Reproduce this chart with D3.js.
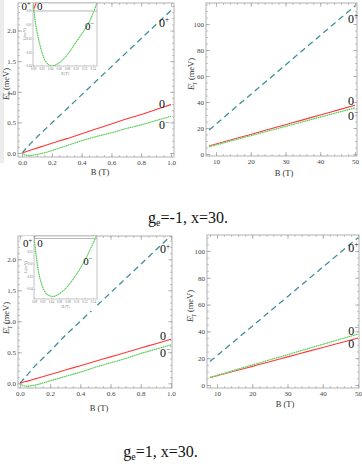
<!DOCTYPE html>
<html>
<head>
<meta charset="utf-8">
<script src="https://cdn.jsdelivr.net/npm/d3@7"></script>
<style>
  body { margin: 0; background: #fff; }
  text { font-family: "Liberation Serif", "Times New Roman", serif; }
</style>
</head>
<body>
<script>
// ---- data ----
const bLow = [0, 0.025, 0.05, 0.075, 0.1, 0.15, 0.2, 0.3, 0.4, 0.5, 0.6, 0.7, 0.8, 0.9, 1.0];
const bHigh = [8, 10, 15, 20, 25, 30, 35, 40, 45, 50];
const bInset = [0, 0.005, 0.01, 0.02, 0.03, 0.045, 0.06, 0.08, 0.1, 0.12, 0.135, 0.15];

// g_e = -1
const plusLowA = [0, 0.07, 0.135, 0.2, 0.26, 0.375, 0.49, 0.72, 0.95, 1.18, 1.41, 1.64, 1.87, 2.10, 2.33];
const zeroLowA = [0, 0.02, 0.04, 0.06, 0.08, 0.12, 0.16, 0.235, 0.315, 0.395, 0.475, 0.555, 0.63, 0.71, 0.79];
const minusLowA = [0, -0.036, -0.04, -0.034, -0.024, 0.003, 0.04, 0.12, 0.2, 0.27, 0.33, 0.4, 0.46, 0.53, 0.6];
const plusHighA = [18.5, 23, 34.5, 45.8, 57.2, 68.5, 79.9, 91.2, 102.6, 114];
const zeroHighA = [6.2, 7.7, 11.4, 15.1, 18.9, 22.6, 26.3, 30.1, 33.8, 37.5];
const minusHighA = [5.6, 7.0, 10.6, 14.1, 17.7, 21.3, 24.8, 28.4, 32.0, 35.5];
const minusInsetA = [0.006, -0.007, -0.016, -0.029, -0.037, -0.04, -0.038, -0.032, -0.023, -0.014, -0.006, 0.006];

// g_e = +1
const plusLowB = [0, 0.07, 0.14, 0.21, 0.28, 0.4, 0.52, 0.77, 1.0, 1.23, 1.46, 1.69, 1.92, 2.15, 2.38];
const zeroLowB = [0, 0.02, 0.035, 0.053, 0.071, 0.107, 0.142, 0.213, 0.284, 0.355, 0.426, 0.497, 0.568, 0.639, 0.71];
const minusLowB = [0, -0.041, -0.046, -0.04, -0.03, 0.003, 0.04, 0.11, 0.18, 0.26, 0.33, 0.4, 0.48, 0.55, 0.62];
const plusHighB = [17.5, 21.9, 32.9, 43.9, 54.9, 65.9, 76.9, 87.9, 98.9, 109.9];
const zeroHighB = [5.5, 6.9, 10.4, 13.9, 17.4, 21.0, 24.5, 28.0, 31.5, 35.0];
const minusHighB = [5.7, 7.2, 11.1, 14.9, 18.8, 22.6, 26.5, 30.3, 34.2, 38.0];
const minusInsetB = [0.001, -0.013, -0.025, -0.038, -0.044, -0.046, -0.044, -0.038, -0.029, -0.018, -0.008, 0.003];

// ticks
const xTicksLow = [0, 0.2, 0.4, 0.6, 0.8, 1.0];
const yTicksLow = [0, 0.5, 1.0, 1.5, 2.0];
const xTicksHigh = [10, 20, 30, 40, 50];
const yTicksHigh = [0, 20, 40, 60, 80, 100];
const xTicksInset = [0, 0.02, 0.04, 0.06, 0.08, 0.1, 0.12, 0.14];
const yTicksInsetA = [0, -0.01, -0.02, -0.03, -0.04];
const yTicksInsetB = [-0.01, -0.02, -0.03, -0.04];

const captions = ["=-1, x=30.", "=1, x=30."];

// ---- styles ----  (each kind may have an under-stroke and an over-stroke)
const styles = {
  plus: [{ stroke: "#3f8f98", dash: "6,4", width: 1.3 }],
  zero: [{ stroke: "#ff3838", dash: null, width: 1.1 }],
  minus: [
    { stroke: "#a4eaa4", dash: null, width: 1.1 },
    { stroke: "#3dbf3d", dash: "1,1.3", width: 1.0 }
  ]
};

const svg = d3.select("body").append("svg").attr("width", 362).attr("height", 467);

// faint strip on the left edge of the top figure
svg.append("rect").attr("x", 0).attr("y", 0).attr("width", 4).attr("height", 163).attr("fill", "#ececec");

let clipCount = 0;

let addSeries = (g, x, y, xs, list, clip) => {
  let line = d3.line()
    .x((d, i) => x(xs[i]))
    .y(d => y(d))
    .curve(d3.curveMonotoneX);
  list.forEach(s => {
    styles[s.kind].forEach(st => {
      g.append("path")
        .datum(s.values)
        .attr("clip-path", `url(#${clip})`)
        .attr("fill", "none")
        .attr("stroke", st.stroke)
        .attr("stroke-width", st.width)
        .attr("stroke-dasharray", st.dash)
        .attr("d", line);
    });
  });
};

let zeroLabel = (g, px, py, sup, size) => {
  let t = g.append("text").attr("x", px).attr("y", py).style("font-size", size + "px").attr("fill", "#111");
  t.append("tspan").text("0");
  if (sup) t.append("tspan").attr("dy", -size * 0.38).style("font-size", size * 0.6 + "px").text(sup);
};

let yTitle = (g, px, py, size) => {
  let t = g.append("text")
    .attr("transform", `translate(${px},${py}) rotate(-90)`)
    .attr("text-anchor", "middle")
    .attr("fill", "#333")
    .style("font-size", size + "px");
  t.append("tspan").style("font-style", "italic").text("E");
  t.append("tspan").attr("dy", -size * 0.35).style("font-size", size * 0.65 + "px").text("r");
  t.append("tspan").attr("dx", -size * 0.3).attr("dy", size * 0.65).style("font-size", size * 0.65 + "px").text("T");
  t.append("tspan").attr("dy", -size * 0.3).text(" (meV)");
};

let panel = p => {
  let g = svg.append("g");
  let x = d3.scaleLinear().domain(p.xDomain).range([p.left, p.right]);
  let y = d3.scaleLinear().domain(p.yDomain).range([p.bottom, p.top]);
  let clip = "clip" + clipCount++;
  g.append("clipPath").attr("id", clip).append("rect")
    .attr("x", p.left).attr("y", p.top)
    .attr("width", p.right - p.left).attr("height", p.bottom - p.top);

  g.append("rect")
    .attr("x", p.left).attr("y", p.top)
    .attr("width", p.right - p.left).attr("height", p.bottom - p.top)
    .attr("fill", "#fff");

  addSeries(g, x, y, p.xs, p.series, clip);

  // minor ticks on all four sides, major ones mirrored on top/right
  let mx = p.minorX.filter(v => v >= p.xDomain[0] && v <= p.xDomain[1]);
  let my = p.minorY.filter(v => v >= p.yDomain[0] && v <= p.yDomain[1]);
  [
    [d3.axisBottom(x).tickValues(mx).tickSize(-2), p.bottom, "x"],
    [d3.axisTop(x).tickValues(mx).tickSize(-2), p.top, "x"],
    [d3.axisLeft(y).tickValues(my).tickSize(-2), p.left, "y"],
    [d3.axisRight(y).tickValues(my).tickSize(-2), p.right, "y"],
    [d3.axisTop(x).tickValues(p.xTicks).tickSize(-4), p.top, "x"],
    [d3.axisRight(y).tickValues(p.yTicks).tickSize(-4), p.right, "y"]
  ].forEach(([ax, pos, dir]) => {
    let a = g.append("g")
      .attr("transform", dir === "x" ? `translate(0,${pos})` : `translate(${pos},0)`)
      .call(ax.tickFormat(""));
    a.select(".domain").remove();
    a.selectAll("line").attr("stroke", "#999").attr("stroke-width", 0.6);
  });

  let xa = g.append("g")
    .attr("transform", `translate(0,${p.bottom})`)
    .call(d3.axisBottom(x).tickValues(p.xTicks).tickSize(-4).tickPadding(3.5).tickFormat(p.xFormat));
  let ya = g.append("g")
    .attr("transform", `translate(${p.left},0)`)
    .call(d3.axisLeft(y).tickValues(p.yTicks).tickSize(-4).tickPadding(2).tickFormat(p.yFormat));
  [xa, ya].forEach(a => {
    a.select(".domain").remove();
    a.selectAll("line").attr("stroke", "#999").attr("stroke-width", 0.7);
    a.selectAll("text").attr("fill", "#444").style("font-size", "7px")
      .style("font-family", '"Liberation Serif", serif');
  });

  g.append("rect")
    .attr("x", p.left).attr("y", p.top)
    .attr("width", p.right - p.left).attr("height", p.bottom - p.top)
    .attr("fill", "none").attr("stroke", "#a8a8a8").attr("stroke-width", 0.9);

  g.append("text")
    .attr("x", p.xTitle[0]).attr("y", p.xTitle[1])
    .attr("text-anchor", "middle").attr("fill", "#333")
    .style("font-size", "8.5px").text("B (T)");
  yTitle(g, p.yTitle[0], p.yTitle[1], 8.5);

  p.labels.forEach(l => zeroLabel(g, x(l.at[0]), y(l.at[1]), l.sup, 12));

  if (p.inset) inset(p.inset);
};

let inset = p => {
  let g = svg.append("g");
  let x = d3.scaleLinear().domain(p.xDomain).range([p.left, p.right]);
  let y = d3.scaleLinear().domain(p.yDomain).range([p.bottom, p.top]);
  let clip = "clip" + clipCount++;
  g.append("clipPath").attr("id", clip).append("rect")
    .attr("x", p.left).attr("y", p.top)
    .attr("width", p.right - p.left).attr("height", p.bottom - p.top);

  g.append("rect")
    .attr("x", p.left - 11).attr("y", p.top)
    .attr("width", p.right - p.left + 11).attr("height", p.bottom - p.top + 12)
    .attr("fill", "#fff");

  // zero line
  g.append("line")
    .attr("x1", p.left).attr("x2", p.right)
    .attr("y1", y(0)).attr("y2", y(0))
    .attr("stroke", "#999").attr("stroke-width", 0.7);

  addSeries(g, x, y, bLow, p.mainSeries, clip);
  addSeries(g, x, y, bInset, p.series, clip);

  let xa = g.append("g")
    .attr("transform", `translate(0,${p.bottom})`)
    .call(d3.axisBottom(x).tickValues(xTicksInset).tickSize(-1.5).tickPadding(1.5).tickFormat(d3.format(".2f")));
  let ya = g.append("g")
    .attr("transform", `translate(${p.left},0)`)
    .call(d3.axisLeft(y).tickValues(p.yTicks).tickSize(-1.5).tickPadding(1.2).tickFormat(d3.format(".2f")));
  [xa, ya].forEach(a => {
    a.select(".domain").remove();
    a.selectAll("line").attr("stroke", "#aaa").attr("stroke-width", 0.5);
    a.selectAll("text").attr("fill", "#777").style("font-size", "3px")
      .style("font-family", '"Liberation Serif", serif');
  });

  g.append("rect")
    .attr("x", p.left).attr("y", p.top)
    .attr("width", p.right - p.left).attr("height", p.bottom - p.top)
    .attr("fill", "none").attr("stroke", "#aaa").attr("stroke-width", 0.7);

  g.append("text")
    .attr("x", (p.left + p.right) / 2).attr("y", p.bottom + 9)
    .attr("text-anchor", "middle").attr("fill", "#777")
    .style("font-size", "3.5px").text("B (T)");
  g.append("text")
    .attr("transform", `translate(${p.left - 7},${(p.top + p.bottom) / 2}) rotate(-90)`)
    .attr("text-anchor", "middle").attr("fill", "#777")
    .style("font-size", "3.5px").text("E (meV)");

  p.labels.forEach(l => zeroLabel(g, x(l.at[0]), y(l.at[1]), l.sup, 11));
};

const fmt1 = d3.format(".1f");
const fmt0 = d3.format("d");
const minorLow = d3.range(0, 21).map(i => i * 0.05);
const minorLowY = d3.range(-1, 26).map(i => i * 0.1);
const minorHigh = d3.range(4, 26).map(i => i * 2);
const minorHighY = d3.range(0, 24).map(i => i * 5);

let lowSeries = (plus, zero, minus) => [
  { kind: "plus", values: plus },
  { kind: "zero", values: zero },
  { kind: "minus", values: minus }
];

// top left, g_e = -1, low field
panel({
  left: 18, right: 174, top: 3, bottom: 157,
  xDomain: [-0.027, 1.02], yDomain: [-0.065, 2.45],
  xs: bLow, series: lowSeries(plusLowA, zeroLowA, minusLowA),
  xTicks: xTicksLow, yTicks: yTicksLow, minorX: minorLow, minorY: minorLowY,
  xFormat: fmt1, yFormat: fmt1,
  xTitle: [100, 175], yTitle: [9, 84],
  labels: [
    { at: [0.92, 2.06], sup: "+" },
    { at: [0.92, 0.735], sup: null },
    { at: [0.92, 0.39], sup: "\u2212" }
  ],
  inset: {
    left: 33, right: 97, top: 3, bottom: 66,
    xDomain: [0, 0.15], yDomain: [-0.04, 0.0058], yTicks: yTicksInsetA,
    mainSeries: [{ kind: "zero", values: zeroLowA }],
    series: [{ kind: "minus", values: minusInsetA }],
    labels: [
      { at: [-0.027, 0.0007], sup: "+" },
      { at: [0.0094, 0.0007], sup: null },
      { at: [0.122, -0.0138], sup: "\u2212" }
    ]
  }
});

// top right, g_e = -1, high field
panel({
  left: 206, right: 357, top: 3, bottom: 156,
  xDomain: [7.12, 50.58], yDomain: [-1.5, 116.2],
  xs: bHigh, series: lowSeries(plusHighA, zeroHighA, minusHighA),
  xTicks: xTicksHigh, yTicks: yTicksHigh, minorX: minorHigh, minorY: minorHighY,
  xFormat: fmt0, yFormat: fmt0,
  xTitle: [284, 176], yTitle: [194, 74],
  labels: [
    { at: [48, 100.8], sup: "+" },
    { at: [48, 37.7], sup: null },
    { at: [48, 26.2], sup: "\u2212" }
  ]
});

// bottom left, g_e = +1, low field
panel({
  left: 18, right: 172, top: 236, bottom: 388,
  xDomain: [-0.013, 1.007], yDomain: [-0.076, 2.376],
  xs: bLow, series: lowSeries(plusLowB, zeroLowB, minusLowB),
  xTicks: xTicksLow, yTicks: yTicksLow, minorX: minorLow, minorY: minorLowY,
  xFormat: fmt1, yFormat: fmt1,
  xTitle: [99, 411], yTitle: [9, 318],
  labels: [
    { at: [0.927, 2.1], sup: "+" },
    { at: [0.927, 0.70], sup: null },
    { at: [0.927, 0.425], sup: "\u2212" }
  ],
  inset: {
    left: 34, right: 97, top: 236, bottom: 299,
    xDomain: [0, 0.15], yDomain: [-0.048, 0.002], yTicks: yTicksInsetB,
    mainSeries: [{ kind: "zero", values: zeroLowB }],
    series: [{ kind: "minus", values: minusInsetB }],
    labels: [
      { at: [-0.026, -0.0067], sup: "+" },
      { at: [0.008, -0.0067], sup: null },
      { at: [0.117, -0.021], sup: "\u2212" }
    ]
  }
});

// bottom right, g_e = +1, high field
panel({
  left: 207, right: 359, top: 235, bottom: 388,
  xDomain: [7.16, 50.28], yDomain: [-2.24, 111.9],
  xs: bHigh, series: lowSeries(plusHighB, zeroHighB, minusHighB),
  xTicks: xTicksHigh, yTicks: yTicksHigh, minorX: minorHigh, minorY: minorHighY,
  xFormat: fmt0, yFormat: fmt0,
  xTitle: [285, 407], yTitle: [193, 306],
  labels: [
    { at: [47.2, 99.3], sup: "+" },
    { at: [47.2, 37.3], sup: "\u2212" },
    { at: [47.2, 27.6], sup: null }
  ]
});

// captions
[[188, 223], [160.5, 457]].forEach(([cx, cy], i) => {
  let t = svg.append("text")
    .attr("x", cx).attr("y", cy)
    .attr("text-anchor", "middle").attr("fill", "#111")
    .style("font-size", "16px");
  t.append("tspan").text("g");
  t.append("tspan").attr("dy", 3).style("font-size", "10px").text("e");
  t.append("tspan").attr("dy", -3).text(captions[i]);
});
</script>
</body>
</html>
